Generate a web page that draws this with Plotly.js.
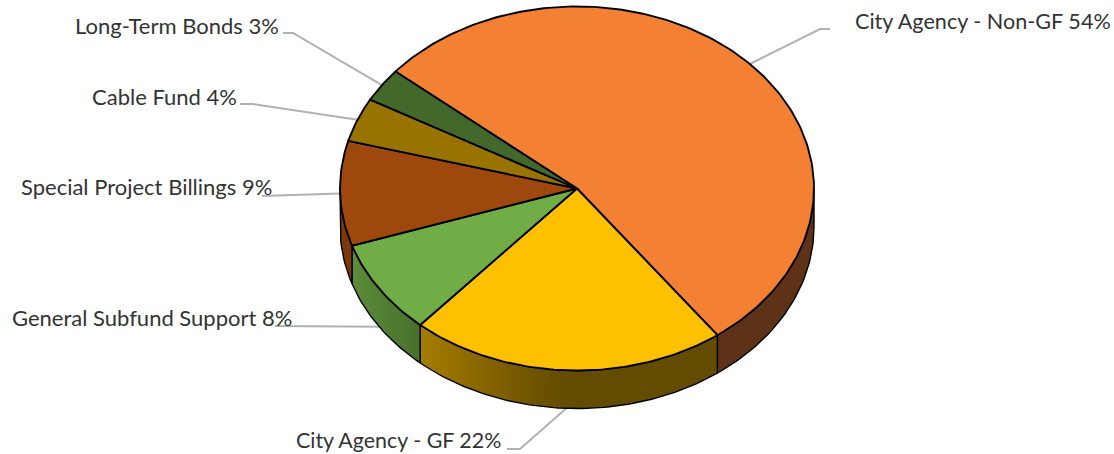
<!DOCTYPE html>
<html>
<head>
<meta charset="utf-8">
<script src="https://cdn.plot.ly/plotly-3.0.1.min.js"></script>
<style>html,body{margin:0;padding:0;background:#fff}#chart{width:1114px;height:454px}</style>
</head>
<body>
<div id="chart"></div>
<script>
// Data (clockwise from the start angle)
const categories = ["City Agency - Non-GF","City Agency - GF","General Subfund Support","Special Project Billings","Cable Fund","Long-Term Bonds"];
const shares = [53.8,21.6,8.4,9.3,3.9,3.0];
const percentLabels = ["54%","22%","8%","9%","4%","3%"];

// Styles
const topColors = ["#F38033","#FFC000","#70AD47","#9E480E","#997300","#43682B"];
const wallScales = [
  [[0,"#5E3216"],[1,"#5E3216"]],
  [[0,"#A67C00"],[0.4,"#6C5200"],[0.5,"#634B00"],[1,"#634B00"]],
  [[0,"#5C8C3A"],[1,"#47702B"]],
  [[0,"#7A380B"],[1,"#7A380B"]],
  [[0,"#6E5300"],[1,"#6E5300"]],
  [[0,"#30491F"],[1,"#30491F"]]
];
const labelX = [853,503,294,274,239,281];
const labelY = [21,440,317,186,96,25];
const labelAnchor = ["left","right","right","right","right","right"];
const labelSize = [21.6,21.4,22,22,22,22];
const elbowX = [820,520,290,275,253,293];
const elbowY = [29,449,326,196,104,33];
const tailX = [830,507,275,262,240,283];

// Pie geometry in pixel-scale axis units
const cx = 577, cy = 188.5, rx = 237, ry = 182, depth = 38, startDeg = -50;
const rad = d => d * Math.PI / 180;
const px = d => cx + rx * Math.sin(rad(d));
const py = (d, dz) => cy - ry * Math.cos(rad(d)) + (dz || 0);

const total = shares.reduce((a,b)=>a+b,0);
let cursor = startDeg;
const spans = shares.map(v => { const a = cursor; cursor += v / total * 360; return [a, cursor]; });

function arc(a, b, dz) {
  const n = Math.max(2, Math.ceil(Math.abs(b - a)));
  const xs = [], ys = [];
  for (let i = 0; i <= n; i++) { const d = a + (b - a) * i / n; xs.push(px(d)); ys.push(py(d, dz)); }
  return [xs, ys];
}

const traces = [];
// Leader lines run from each slice's mid-angle on the rim
spans.forEach((s, i) => {
  const mid = (s[0] + s[1]) / 2;
  const dz = (mid > 90 && mid < 260) ? depth : 0;
  traces.push({type:"scatter",mode:"lines",x:[px(mid),elbowX[i],tailX[i]],y:[py(mid,dz),elbowY[i],elbowY[i]],
    line:{color:"#B2B2B2",width:2},hoverinfo:"skip",showlegend:false});
});
// Side wall: only the front half (90..270 deg) is visible
spans.forEach((s, i) => {
  const a = Math.max(s[0], 90), b = Math.min(s[1], 270);
  if (b <= a) return;
  const [xTop, yTop] = arc(a, b, 0);
  const [xBot, yBot] = arc(b, a, depth);
  traces.push({type:"scatter",mode:"lines",x:xTop.concat(xBot,[xTop[0]]),y:yTop.concat(yBot,[yTop[0]]),
    fill:"toself",fillgradient:{type:"horizontal",colorscale:wallScales[i]},
    line:{color:"#000",width:1.4},hoverinfo:"skip",showlegend:false});
});
// Top face
spans.forEach((s, i) => {
  const [xs, ys] = arc(s[0], s[1], 0);
  traces.push({type:"scatter",mode:"lines",name:categories[i],
    x:[cx].concat(xs,[cx]),y:[cy].concat(ys,[cy]),
    fill:"toself",fillcolor:topColors[i],line:{color:"#000",width:1.9},
    hoverinfo:"name",showlegend:false});
});

const annotations = categories.map((c, i) => ({
  x:labelX[i],y:labelY[i],xref:"x",yref:"y",text:c+" "+percentLabels[i],showarrow:false,
  xanchor:labelAnchor[i],yanchor:"middle",font:{family:"Lato, Carlito, sans-serif",size:labelSize[i],color:"#333333"}
}));

const layout = {
  width:1114,height:454,margin:{l:0,r:0,t:0,b:0},
  paper_bgcolor:"#fff",plot_bgcolor:"#fff",showlegend:false,
  xaxis:{range:[0,1114],visible:false,fixedrange:true},
  yaxis:{range:[454,0],visible:false,fixedrange:true},
  annotations:annotations
};
Plotly.newPlot("chart",traces,layout,{displayModeBar:false});
</script>
</body>
</html>
